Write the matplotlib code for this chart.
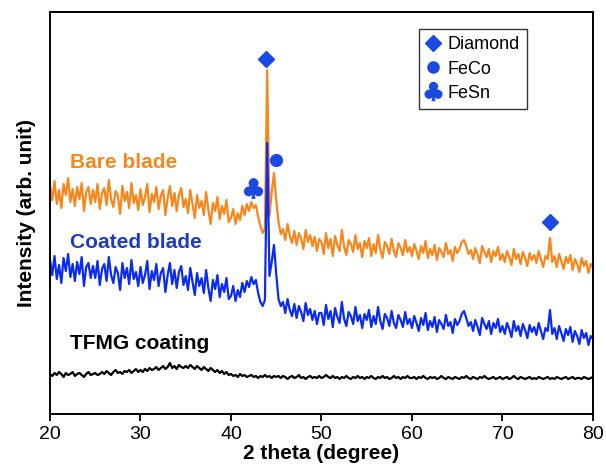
import numpy as np
import matplotlib
matplotlib.use('Agg')
import matplotlib.pyplot as plt
from matplotlib.lines import Line2D

plt.rcParams['font.family'] = ['Liberation Sans', 'DejaVu Sans']

# 2 theta scan, 0.25 degree step
two_theta = np.arange(20, 80.001, 0.25)

# intensities (arbitrary units, offsets already included)
bare_blade = [
    229, 214, 233, 210, 224, 206, 230, 219, 236, 212, 225, 208, 227, 215, 231, 203, 222, 227, 210, 224,
    212, 230, 205, 221, 226, 209, 234, 215, 207, 223, 218, 200, 228, 213, 222, 206, 231, 211, 219, 204,
    225, 209, 217, 230, 202, 220, 212, 227, 205, 218, 224, 199, 216, 228, 208, 221, 203, 219, 226, 207,
    215, 201, 224, 210, 196, 219, 206, 213, 199, 222, 204, 190, 211, 203, 217, 195, 208, 200, 214, 192,
    196, 205, 190, 201, 194, 208, 199, 210, 203, 212, 206, 209, 197, 188, 181, 186, 344, 198, 222, 241,
    214, 192, 180, 185, 174, 190, 178, 171, 183, 169, 181, 176, 165, 184, 172, 179, 168, 177, 163, 175,
    172, 160, 181, 166, 175, 158, 178, 169, 163, 184, 167, 159, 174, 170, 162, 179, 165, 171, 157, 173,
    166, 176, 158, 170, 161, 179, 165, 156, 172, 168, 160, 175, 163, 157, 171, 166, 159, 174, 162, 167,
    158, 170, 163, 155, 168, 161, 173, 156, 165, 159, 169, 154, 166, 162, 157, 171, 160, 164, 153, 167,
    161, 165, 172, 174, 168, 160, 164, 155, 166, 159, 151, 168, 162, 157, 165, 152, 163, 158, 167, 154,
    160, 152, 163, 157, 149, 165, 155, 160, 150, 162, 156, 148, 161, 154, 159, 151, 163, 155, 147, 158,
    155, 176, 152, 158, 147, 160, 153, 145, 157, 151, 159, 144, 155, 150, 142, 156, 148, 153, 141, 150,
    147,
]

coated_blade = [
    154, 139, 158, 135, 149, 131, 156, 143, 160, 137, 150, 133, 152, 140, 157, 128, 147, 151, 136, 148,
    136, 153, 129, 145, 150, 133, 157, 139, 131, 147, 141, 124, 151, 136, 146, 130, 154, 135, 142, 128,
    147, 131, 139, 153, 125, 143, 134, 150, 128, 141, 146, 122, 139, 151, 130, 144, 126, 142, 148, 129,
    138, 124, 146, 132, 119, 141, 128, 136, 121, 144, 126, 113, 134, 125, 139, 117, 130, 122, 136, 115,
    118, 128, 113, 124, 117, 131, 122, 133, 127, 137, 130, 134, 121, 112, 108, 114, 271, 138, 152, 169,
    140, 115, 108, 112, 101, 115, 104, 98, 110, 96, 108, 102, 93, 111, 99, 105, 94, 103, 90, 101,
    101, 89, 109, 95, 103, 87, 106, 97, 91, 112, 95, 88, 102, 98, 90, 107, 93, 99, 86, 100,
    94, 104, 87, 98, 90, 107, 93, 85, 100, 96, 88, 103, 91, 86, 99, 94, 87, 102, 90, 95,
    86, 98, 91, 83, 96, 89, 101, 84, 93, 87, 97, 82, 94, 90, 85, 99, 88, 92, 81, 95,
    89, 93, 100, 103, 96, 88, 92, 83, 94, 87, 79, 96, 90, 85, 93, 80, 91, 86, 95, 82,
    88, 80, 91, 85, 77, 93, 83, 88, 78, 90, 84, 76, 89, 82, 87, 79, 91, 83, 75, 86,
    83, 104, 80, 86, 75, 88, 81, 73, 85, 79, 87, 72, 83, 78, 70, 84, 76, 81, 69, 78,
    75,
]

tfmg_coating = [
    40, 38, 41, 39, 42, 40, 37, 41, 39, 40, 42, 38, 40, 41, 39, 37, 40, 42, 39, 40,
    41, 39, 40, 42, 40, 43, 41, 39, 42, 44, 41, 42, 40, 43, 42, 44, 41, 43, 45, 42,
    44, 42, 45, 43, 46, 44, 45, 47, 44, 46, 48, 45, 47, 51, 46, 48, 45, 49, 47, 46,
    48, 46, 49, 47, 45, 48, 46, 44, 47, 45, 43, 46, 44, 42, 44, 41, 43, 40, 42, 39,
    40, 38, 39, 37, 40, 38, 39, 37, 38, 39, 37, 38, 36, 38, 37, 39, 37, 38, 36, 38,
    37, 38, 36, 38, 37, 35, 37, 38, 36, 37, 39, 36, 37, 35, 37, 38, 36, 37, 36, 38,
    36, 37, 39, 37, 36, 38, 36, 37, 35, 37, 36, 38, 36, 35, 37, 36, 38, 36, 37, 35,
    37, 36, 38, 36, 35, 37, 36, 38, 36, 37, 35, 36, 38, 36, 37, 35, 37, 36, 38, 36,
    36, 37, 35, 37, 36, 38, 36, 35, 37, 36, 37, 35, 36, 38, 36, 35, 37, 36, 35, 37,
    36, 35, 37, 36, 38, 36, 35, 37, 36, 35, 37, 36, 38, 36, 35, 36, 37, 35, 36, 37,
    35, 36, 37, 35, 36, 38, 36, 35, 37, 36, 35, 36, 37, 35, 36, 35, 37, 36, 35, 36,
    37, 35, 36, 35, 37, 36, 35, 36, 37, 35, 36, 37, 35, 36, 36, 35, 37, 36, 35, 36,
    37,
]

# peak markers (2 theta, height)
diamond_peaks = [(43.9, 355), (75.25, 192)]
feco_peaks = [(45.0, 254)]
fesn_peaks = [(42.4, 226)]

orange = '#f7861c'
blue = '#0b2cf0'
mark_blue = '#1a4ae0'

fig = plt.figure(figsize=(6.06, 4.74), dpi=100)
ax = fig.add_axes([0.0825, 0.1266, 0.896, 0.848])

ax.plot(two_theta, bare_blade, color=orange, lw=1.6)
ax.plot(two_theta, coated_blade, color=blue, lw=1.6)
ax.plot(two_theta, tfmg_coating, color='black', lw=1.6)

for x, y in diamond_peaks:
    ax.plot(x, y, marker='D', ms=8.5, color=mark_blue, ls='none')
for x, y in feco_peaks:
    ax.plot(x, y, marker='o', ms=8.5, color=mark_blue, ls='none')
for x, y in fesn_peaks:
    ax.plot(x, y, marker=r'$\clubsuit$', ms=14, color=mark_blue, ls='none')

ax.text(22.2, 252, 'Bare blade', color=orange, fontsize=15, fontweight='bold', va='center')
ax.text(22.2, 172, 'Coated blade', color='#1c3cc4', fontsize=15, fontweight='bold', va='center')
ax.text(22.2, 71, 'TFMG coating', color='black', fontsize=15, fontweight='bold', va='center')

handles = [
    Line2D([], [], marker='D', ms=8, color=mark_blue, ls='none'),
    Line2D([], [], marker='o', ms=8, color=mark_blue, ls='none'),
    Line2D([], [], marker=r'$\clubsuit$', ms=13, color=mark_blue, ls='none'),
]
leg = ax.legend(handles, ['Diamond', 'FeCo', 'FeSn'], loc='upper left',
                bbox_to_anchor=(0.663, 0.98), fontsize=13, frameon=True,
                fancybox=False, edgecolor='black', handlelength=0.8,
                handletextpad=0.4, borderpad=0.4, labelspacing=0.4)
leg.get_frame().set_linewidth(1.0)

ax.set_xlim(20, 80)
ax.set_ylim(0, 402)
ax.set_xticks([20, 30, 40, 50, 60, 70, 80])
ax.set_yticks([])
ax.tick_params(axis='x', direction='out', length=5, width=1.3, labelsize=14)
for s in ax.spines.values():
    s.set_linewidth(1.4)

ax.set_xlabel('2 theta (degree)', fontsize=15, fontweight='bold', labelpad=1)
ax.set_ylabel('Intensity (arb. unit)', fontsize=15, fontweight='bold', labelpad=10)

fig.savefig('out.png', dpi=100)
